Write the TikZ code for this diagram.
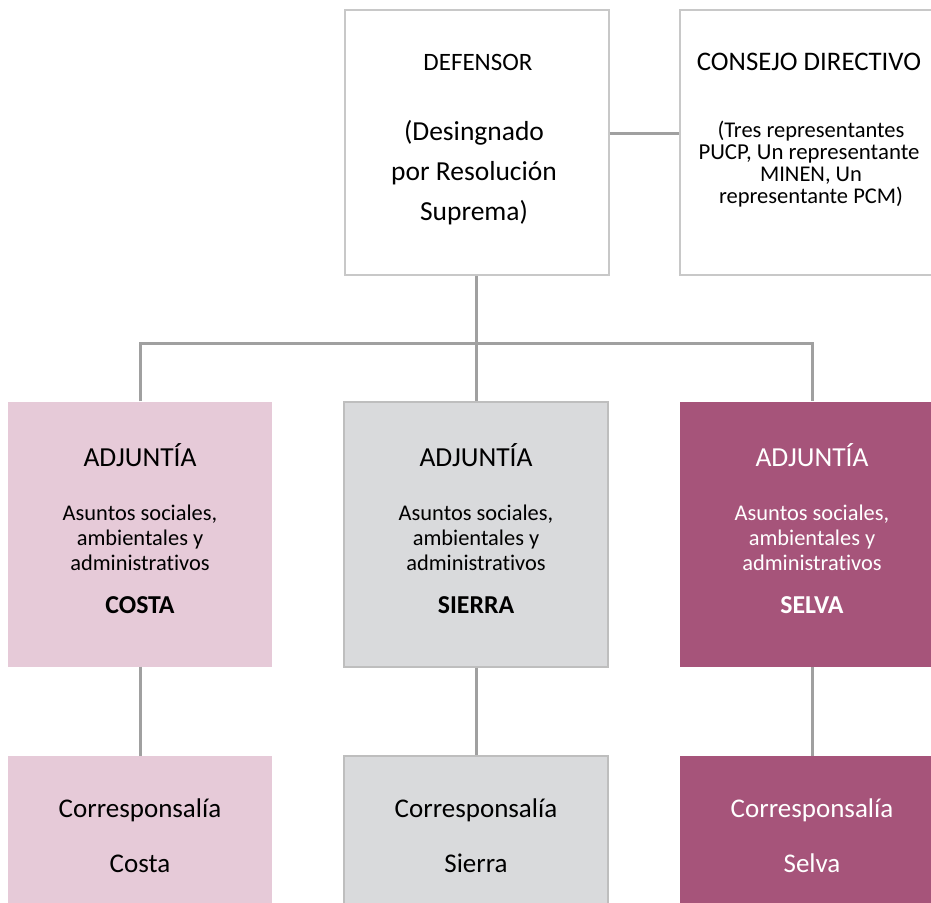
\documentclass[tikz,border=0pt]{standalone}
\usepackage{fontspec}
\setmainfont{Carlito}[Ligatures=NoCommon]
\definecolor{pinkfill}{HTML}{E6CAD8}
\definecolor{grayfill}{HTML}{D9DADC}
\definecolor{selvafill}{HTML}{A6547A}
\definecolor{boxline}{HTML}{C8C8C8}
\definecolor{grayline}{HTML}{BEBEBE}
\definecolor{linkgray}{HTML}{A0A0A0}
\newcommand{\myfs}[1]{\fontsize{#1}{#1}\selectfont}
\begin{document}
\begin{tikzpicture}[x=1pt,y=-1pt,
  box/.style={rectangle, inner sep=0pt, minimum width=264pt, minimum height=265pt},
  whitebox/.style={box, fill=white, draw=boxline, line width=2pt},
  pinkbox/.style={box, fill=pinkfill},
  graybox/.style={box, fill=grayfill, draw=grayline, line width=2pt},
  selvabox/.style={box, fill=selvafill},
  link/.style={draw=linkgray, line width=3pt},
  txt/.style={inner sep=0pt, anchor=base, text=black},
  wtxt/.style={txt, text=white}]
\useasboundingbox (0,0) rectangle (931,902);
\clip (0,0) rectangle (931,902);

% top row
\node[whitebox] (def) at (476.5,142.5) {};
\node[whitebox] (cons) at (812,142.5) {};
% middle row
\node[pinkbox] (adjc) at (140,534) {};
\node[graybox] (adjs) at (476,534) {};
\node[selvabox] (adjv) at (812,534) {};
% bottom row
\node[pinkbox] (corc) at (140,888.5) {};
\node[graybox] (cors) at (476,888.5) {};
\node[selvabox] (corv) at (812,888.5) {};

% connectors
\coordinate (busM) at (476,343);
\draw[link] (def.east |- 0,133) -- (cons.west |- 0,133);
\draw[link] (def.south -| busM) -- (busM);
\draw[link] (adjc.north) -- (adjc.north |- busM) -- (adjv.north |- busM) -- (adjv.north);
\draw[link] (busM) -- (adjs.north);
\draw[link] (adjc.south) -- (corc.north);
\draw[link] (adjs.south) -- (cors.north);
\draw[link] (adjv.south) -- (corv.north);

% DEFENSOR text
\node[txt] (d1) at (478,70) {\myfs{25}DEFENSOR};
\node[txt] (d2) at (474,140) {\myfs{27.5}(Desingnado};
\node[txt] (d3) at (474,180) {\myfs{27.5}por Resolución};
\node[txt] (d4) at (474,220) {\myfs{27.5}Suprema)};
% CONSEJO text
\node[txt] (c1) at (809,70) {\myfs{26.8}CONSEJO DIRECTIVO};
\node[txt] (c2) at (811,137) {\myfs{22.5}(Tres representantes};
\node[txt] (c3) at (809,159) {\myfs{22.8}PUCP, Un representante};
\node[txt] (c4) at (811,181) {\myfs{22.5}MINEN, Un};
\node[txt] (c5) at (811,203) {\myfs{22.5}representante PCM)};

% ADJUNTIA texts
\foreach \cx/\nm/\reg/\st in {140/a/COSTA/txt, 476/b/SIERRA/txt, 812/c/SELVA/wtxt}{
  \node[\st] (\nm1) at (\cx,466) {\myfs{27.5}ADJUNTÍA};
  \node[\st] (\nm2) at (\cx,520) {\myfs{22.4}Asuntos sociales,};
  \node[\st] (\nm3) at (\cx,545) {\myfs{22.4}ambientales y};
  \node[\st] (\nm4) at (\cx,570) {\myfs{22.4}administrativos};
  \node[\st] (\nm5) at (\cx,613) {\myfs{25.8}\bfseries \reg};
}
% Corresponsalia texts
\foreach \cx/\nm/\reg/\st in {140/p/Costa/txt, 476/q/Sierra/txt, 812/r/Selva/wtxt}{
  \node[\st] (\nm1) at (\cx,817) {\myfs{27}Corresponsalía};
  \node[\st] (\nm2) at (\cx,872) {\myfs{27}\reg};
}
\end{tikzpicture}
\end{document}
